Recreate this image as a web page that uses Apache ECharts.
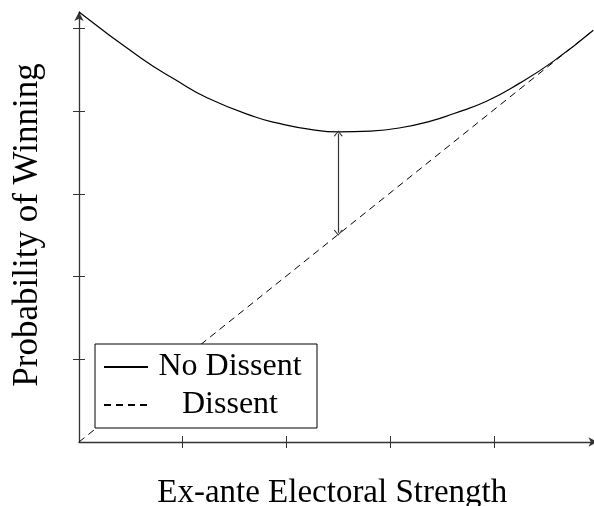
<!DOCTYPE html>
<html>
<head>
<meta charset="utf-8">
<script src="https://cdn.jsdelivr.net/npm/echarts@6/dist/echarts.min.js"></script>
<style>
  html, body { margin: 0; padding: 0; background: #fff; }
  #chart { width: 594px; height: 506px; }
</style>
</head>
<body>
<div id="chart"></div>
<script>
// values
var curveX = [0, 0.6, 0.93, 1.24, 1.7, 1.94, 2.23, 2.5, 2.81, 3.1, 3.39, 3.61, 3.93, 4.25, 4.57, 4.96];
var noDissent = [5.2, 4.64, 4.38, 4.16, 3.93, 3.85, 3.78, 3.75, 3.76, 3.8, 3.88, 3.97, 4.12, 4.34, 4.6, 4.98];
var dissentX = [0, 4.96];
var dissent = [0, 4.98];
var gapX = 2.5;
var gapTop = 3.73;
var gapBottom = 2.53;
var xTicks = [1, 2, 3, 4];
var yTicks = [1, 2, 3, 4, 5];
var seriesNames = ['No Dissent', 'Dissent'];

var font = 'Liberation Serif';
var ink = '#000';
var axisInk = '#333';

function pairs (xs, ys) {
  return xs.map(function (x, i) { return [x, ys[i]]; });
}

// open chevron for the double arrow
var chevron = 'path://M0,9 L6,0 L12,9 L10.6,9.8 L6,2.4 L1.4,9.8 Z';

var chart = echarts.init(document.getElementById('chart'), null, { renderer: 'canvas' });

var axisCommon = {
  type: 'value',
  splitLine: { show: false },
  axisLabel: { show: false }
};

var option = {
  animation: false,
  // fixed plot box, don't let the axis names push it around
  grid: { left: 79, top: 12, width: 518.5, height: 430, outerBoundsMode: 'none', containLabel: false },
  legend: {
    orient: 'vertical',
    left: 95,
    top: 344,
    z: 10,
    padding: [4, 10, 4, 8],
    itemGap: 0,
    itemWidth: 44,
    itemHeight: 38,
    backgroundColor: '#fff',
    borderColor: ink,
    borderWidth: 1,
    itemStyle: { opacity: 0 },
    data: seriesNames,
    formatter: '{c|{name}}',
    textStyle: {
      fontFamily: font,
      fontSize: 32,
      lineHeight: 38,
      rich: {
        c: {
          width: 154,
          align: 'center',
          fontFamily: font,
          fontSize: 32,
          lineHeight: 38,
          color: ink
        }
      }
    }
  },
  xAxis: [
    Object.assign({}, axisCommon, {
      min: 0,
      max: 5,
      name: 'Ex-ante Electoral Strength',
      nameLocation: 'middle',
      nameGap: 35,
      nameTextStyle: { fontFamily: font, fontSize: 33, color: ink, padding: [0, 12, 0, 0] },
      axisLine: {
        show: true,
        symbol: ['none', 'arrow'],
        symbolSize: [7, 9],
        lineStyle: { color: axisInk, width: 1.3 }
      },
      axisTick: { show: true, length: 6, customValues: xTicks, lineStyle: { color: axisInk } }
    }),
    Object.assign({}, axisCommon, {
      min: 0,
      max: 5,
      position: 'bottom',
      axisLine: { show: false },
      axisTick: { show: true, inside: true, length: 6, customValues: xTicks, lineStyle: { color: axisInk } }
    })
  ],
  yAxis: [
    Object.assign({}, axisCommon, {
      min: 0,
      max: 5.2,
      name: 'Probability of Winning',
      nameLocation: 'middle',
      nameGap: 34,
      nameTextStyle: { fontFamily: font, fontSize: 35, color: ink, padding: [0, 0, 0, 4] },
      axisLine: {
        show: true,
        symbol: ['none', 'arrow'],
        symbolSize: [7, 9],
        lineStyle: { color: axisInk, width: 1.3 }
      },
      axisTick: { show: true, length: 6, customValues: yTicks, lineStyle: { color: axisInk } }
    }),
    Object.assign({}, axisCommon, {
      min: 0,
      max: 5.2,
      position: 'left',
      axisLine: { show: false },
      axisTick: { show: true, inside: true, length: 6, customValues: yTicks, lineStyle: { color: axisInk } }
    })
  ],
  series: [
    {
      name: seriesNames[0],
      type: 'line',
      smooth: true,
      symbol: 'none',
      data: pairs(curveX, noDissent),
      lineStyle: { color: ink, width: 1.2 },
      itemStyle: { color: ink },
      markLine: {
        silent: true,
        symbol: [chevron, chevron],
        symbolSize: [9, 6],
        label: { show: false },
        lineStyle: { color: '#333', width: 1.2, type: 'solid' },
        data: [[{ coord: [gapX, gapTop] }, { coord: [gapX, gapBottom] }]]
      },
      z: 3
    },
    {
      name: seriesNames[1],
      type: 'line',
      symbol: 'none',
      data: pairs(dissentX, dissent),
      lineStyle: { color: ink, width: 1, type: [7, 5] },
      itemStyle: { color: ink },
      z: 2
    }
  ]
};

chart.setOption(option);
</script>
</body>
</html>
